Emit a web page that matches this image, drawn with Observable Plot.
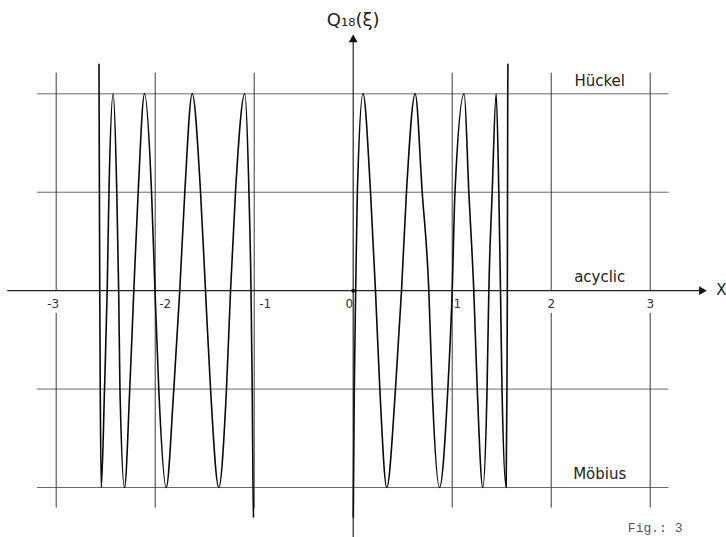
<!DOCTYPE html>
<html>
<head>
<meta charset="utf-8">
<script src="https://cdn.jsdelivr.net/npm/d3@7"></script>
<script src="https://cdn.jsdelivr.net/npm/@observablehq/plot@0.6"></script>
<style>
  html, body { margin: 0; padding: 0; background: #fff; overflow: hidden; }
</style>
</head>
<body>
<div id="chart"></div>
<script>
// Curve Q18(xi): left piece (x < -1) and right piece (x > 0)
const leftX = [-2.568, -2.560, -2.555, -2.545, -2.512, -2.485, -2.467, -2.424, -2.388, -2.369, -2.356, -2.310,
  -2.257, -2.216, -2.172, -2.108, -2.037, -2.002, -1.964, -1.889, -1.812, -1.752, -1.701, -1.626,
  -1.542, -1.492, -1.441, -1.358, -1.280, -1.239, -1.189, -1.095, -1.053, -1.032, -1.020, -1.012, -1.007];
const leftY = [2.3, 0, -1, -2, -1, 0, 1, 2, 1, 0, -1, -2,
  -1, 0, 1, 2, 1, 0, -1, -2, -1, 0, 1, 2,
  1, 0, -1, -2, -1, 0, 1, 2, 1, 0, -1, -2, -2.3];
const rightX = [0.001, 0.003, 0.011, 0.025, 0.042, 0.099, 0.175, 0.225, 0.269, 0.339, 0.427, 0.488, 0.538, 0.626,
  0.697, 0.764, 0.798, 0.872, 0.956, 1.000, 1.028, 1.121, 1.168, 1.218, 1.253, 1.309,
  1.352, 1.370, 1.404, 1.444, 1.471, 1.488, 1.503, 1.545, 1.553, 1.557, 1.559, 1.561, 1.563];
const rightY = [-2.3, -2, -1, 0, 1, 2, 1, 0, -1, -2, -1, 0, 1, 2,
  1, 0, -1, -2, -1, 0, 1, 2, 1, 0, -1, -2,
  -1, 0, 1, 2, 1, 0, -1, -2, -1, 0, 1, 2, 2.3];

// Axis ticks and levels
const xTicks = [-3, -2, -1, 0, 1, 2, 3];
const tickLabels = ["-3", "-2", "-1", "0", "1", "2", "3"];
const gridX = [-3, -2, -1, 1, 2, 3];
const levelY = [2, 1, -1, -2];
const levelNames = ["Hückel", "acyclic", "Möbius"];
const levelNameY = [2, 0, -2];
const yTitle = "Q₁₈(ξ)";
const xTitle = "X";
const figNote = "Fig.: 3";

// layout (not data)
const gridSpan = [-3.19, 3.19];
const gridTop = 2.21, gridBottom = -2.21;
const tickDx = [-3, 10, 11, -4, 5, 0, 0];
const centeredLabels = new Set([-3, 2, 3]);

const curve = [
  ...leftX.map((x, i) => ({x, y: leftY[i], piece: "left"})),
  ...rightX.map((x, i) => ({x, y: rightY[i], piece: "right"}))
];

const font = "DejaVu Sans";
const marks = [
  // horizontal level lines
  Plot.ruleY(levelY, {x1: gridSpan[0], x2: gridSpan[1], stroke: "#6a6a6a", strokeWidth: 1}),
  // vertical gridlines (upper and lower parts)
  Plot.ruleX(gridX, {y1: 0, y2: gridTop, stroke: "#3a3a3a", strokeWidth: 1}),
  Plot.ruleX(gridX, {y1: gridBottom, y2: d => centeredLabels.has(d) ? -0.23 : 0, stroke: "#3a3a3a", strokeWidth: 1}),
  // x axis with arrow
  Plot.ruleY([0], {x1: -3.49, x2: 3.5, stroke: "#222", strokeWidth: 1.2}),
  Plot.dot([0], {x: 3.52, y: 0, symbol: "triangle", rotate: 90, r: 3.3, fill: "#111", stroke: "none"}),
  // y axis with arrow
  Plot.ruleX([0], {y1: -2.6, y2: 2.52, stroke: "#222", strokeWidth: 1.2}),
  Plot.dot([0], {x: 0, y: 2.55, symbol: "triangle", r: 3.3, fill: "#111", stroke: "none"}),
  Plot.dot([0], {x: 0, y: 0, r: 2, fill: "#111"}),
  // curve
  Plot.line(curve, {x: "x", y: "y", z: "piece", curve: "monotone-x", stroke: "#0a0a0a", strokeWidth: 1.6}),
  // tick labels
  ...xTicks.map((t, i) => Plot.text([t], {x: d => d, y: 0, text: [tickLabels[i]], dx: tickDx[i], dy: 14,
    fontSize: 12, fill: "#333", fontFamily: font})),
  // level names
  Plot.text(levelNames, {x: 2.49, y: (d, i) => levelNameY[i], text: d => d, dy: -13, fontSize: 15,
    fill: "#222", fontFamily: font}),
  // titles
  Plot.text([yTitle], {x: 0, y: 2.745, text: d => d, fontSize: 18, fill: "#222", fontFamily: font}),
  Plot.text([xTitle], {x: 3.72, y: 0, text: d => d, fontSize: 15, fill: "#222", fontFamily: font}),
  Plot.text([figNote], {x: 3.05, y: -2.41, text: d => d, fontSize: 13, fill: "#555",
    fontFamily: "Liberation Mono", letterSpacing: 1.5})
];

const chart = Plot.plot({
  width: 726,
  height: 537,
  marginLeft: 55.7,
  marginRight: 76.3,
  marginTop: 93.3,
  marginBottom: 50,
  x: {domain: [-3, 3], axis: null},
  y: {domain: [-2, 2], axis: null},
  style: {background: "#fff", fontFamily: font, overflow: "visible"},
  marks
});
document.getElementById("chart").appendChild(chart);
</script>
</body>
</html>
